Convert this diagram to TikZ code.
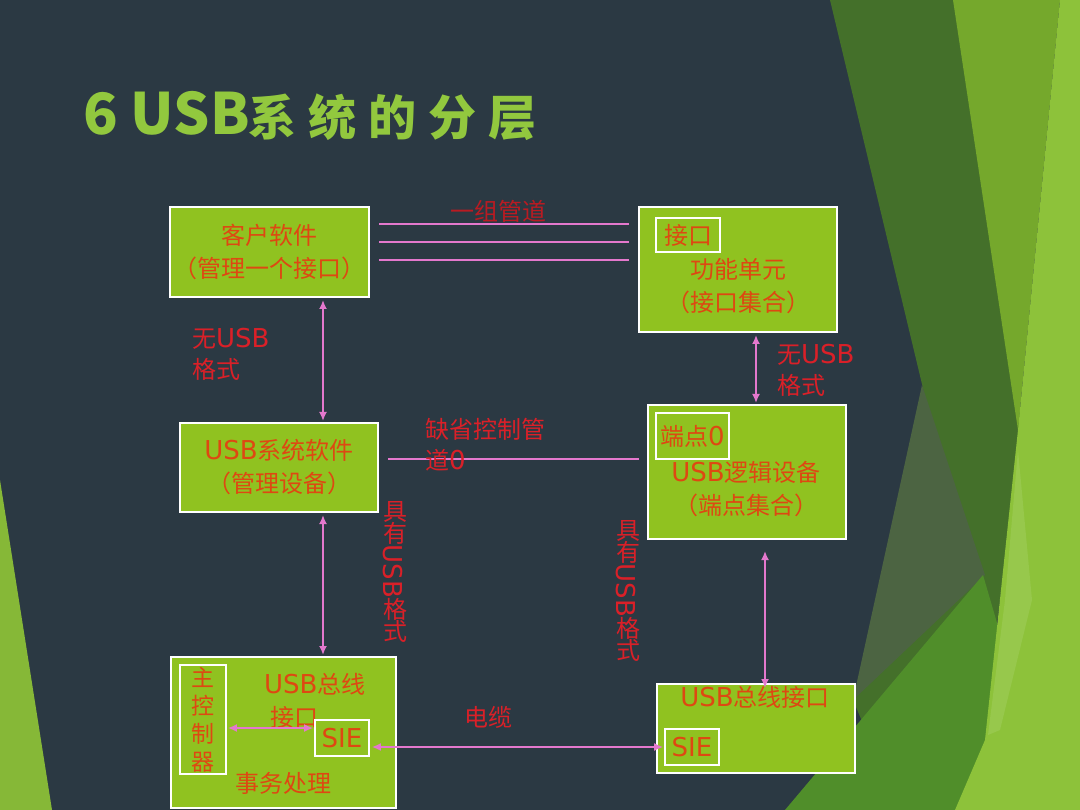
\documentclass[tikz,border=0pt]{standalone}
\usepackage{fontspec}
\setmainfont{Noto Sans CJK SC}
\newfontfamily\latf{DejaVu Sans}
\newcommand\Ltn[1]{{\latf\fontsize{26}{32}\selectfont #1}}
\usetikzlibrary{arrows.meta}
\definecolor{bg}{RGB}{43,57,67}
\definecolor{boxgreen}{RGB}{144,194,32}
\definecolor{boxtxt}{RGB}{222,72,18}
\definecolor{lblred}{RGB}{218,32,40}
\definecolor{pinkc}{RGB}{228,120,205}
\definecolor{titlegreen}{RGB}{146,200,62}
\definecolor{dkgreen}{RGB}{68,112,42}
\definecolor{graygreen}{RGB}{76,100,66}
\definecolor{medgreen}{RGB}{80,142,42}
\definecolor{midgreen}{RGB}{117,168,44}
\definecolor{ltgreen}{RGB}{141,194,58}
\definecolor{hlgreen}{RGB}{158,204,88}
\begin{document}
\begin{tikzpicture}[x=1pt,y=-1pt,
  box/.style={draw=white, line width=2pt, fill=boxgreen, inner sep=0pt},
  inbox/.style={draw=white, line width=1.6pt, inner sep=0pt},
  btxt/.style={text=boxtxt, font=\fontsize{24}{33}\selectfont, align=center},
  lbl/.style={text=lblred, font=\fontsize{24}{31}\selectfont, align=left, inner sep=0pt},
  conn/.style={draw=pinkc, line width=2.2pt},
  arr/.style={conn, {Latex[length=9pt,width=8pt]}-{Latex[length=9pt,width=8pt]}}]
\useasboundingbox (0,0) rectangle (1080,810);
% background
\fill[bg] (0,0) rectangle (1080,810);
\fill[dkgreen] (830,0) -- (960,0) -- (1022,420) -- (995,640) -- (870,740) -- (853,700) -- (927,405) -- cycle;
\fill[graygreen] (922,385) -- (985,575) -- (853,700) -- cycle;
\fill[medgreen] (785,810) -- (983,575) -- (1002,640) -- (992,810) -- cycle;
\fill[midgreen] (953,0) -- (1060,0) -- (1018,430) -- cycle;
\fill[ltgreen] (1060,0) -- (1080,0) -- (1080,810) -- (955,810) -- (985,740) -- (1018,430) -- cycle;
\fill[hlgreen, opacity=0.6] (1018,450) -- (1032,600) -- (1000,730) -- (988,735) -- (1005,600) -- cycle;
\fill[ltgreen!95!black] (0,480) -- (52,810) -- (0,810) -- cycle;
% title
\node[anchor=west, text=titlegreen, font=\fontsize{57}{60}\selectfont\bfseries, inner sep=0pt] (T1) at (83,113) {6 USB};
\node[anchor=west, text=titlegreen, font=\fontsize{48}{50}\selectfont\bfseries, inner sep=0pt] (T2) at (248,117) {系\hspace{12pt}统\hspace{12pt}的\hspace{12pt}分\hspace{12pt}层};
% boxes
\node[box, btxt, minimum width=199pt, minimum height=90pt] (A) at (269.5,252) {客户软件\\（管理一个接口）};
\node[box, minimum width=198pt, minimum height=125pt] (B) at (738,269.5) {};
\node[inbox, btxt, minimum width=64pt, minimum height=34pt] (Bi) at (688,235) {接口};
\node[btxt] (Bt) at (738,286) {功能单元\\（接口集合）};
\node[box, btxt, minimum width=198pt, minimum height=89pt] (C) at (279,467.5) {\Ltn{USB}系统软件\\（管理设备）};
\node[box, minimum width=198pt, minimum height=134pt] (D) at (747,472) {};
\node[inbox, btxt, minimum width=73pt, minimum height=46pt] (Di) at (692.5,436) {端点\Ltn{0}};
\node[btxt] (Dt) at (746,489) {\Ltn{USB}逻辑设备\\（端点集合）};
\node[box, minimum width=225pt, minimum height=151pt] (E) at (283.5,732.5) {};
\node[inbox, btxt, font=\fontsize{23}{28}\selectfont, minimum width=46pt, minimum height=109pt] (Ei) at (203,719.5) {主\\控\\制\\器};
\node[btxt, align=left, anchor=west, inner sep=0pt] (Et1) at (264,701) {\Ltn{USB}总线\\\hspace{6pt}接口};
\node[inbox, btxt, minimum width=54pt, minimum height=36pt] (Es) at (342,738) {\Ltn{SIE}};
\node[btxt] (Et2) at (283,783) {事务处理};
\node[box, minimum width=198pt, minimum height=89pt] (F) at (756,728.5) {};
\node[btxt] (Ft) at (755,697) {\Ltn{USB}总线接口};
\node[inbox, btxt, minimum width=54pt, minimum height=36pt] (Fs) at (692,747) {\Ltn{SIE}};
% helper coordinates
\coordinate (xl) at (323,0);
\coordinate (xr) at (756,0);
\coordinate (xr2) at (765,0);
\coordinate (p1) at (0,224);
\coordinate (p2) at (0,242);
\coordinate (p3) at (0,260);
\coordinate (p4) at (0,459);
\coordinate (p5) at (0,728);
% connectors
\draw[conn, shorten <=9pt, shorten >=9pt] (A.east |- p1) -- (B.west |- p1);
\draw[conn, shorten <=9pt, shorten >=9pt] (A.east |- p2) -- (B.west |- p2);
\draw[conn, shorten <=9pt, shorten >=9pt] (A.east |- p3) -- (B.west |- p3);
\draw[conn, shorten <=9pt, shorten >=8pt] (C.east |- p4) -- (D.west |- p4);
\draw[arr, shorten <=2pt, shorten >=1pt] (A.south -| xl) -- (C.north -| xl);
\draw[arr, shorten <=2pt, shorten >=1pt] (C.south -| xl) -- (E.north -| xl);
\draw[arr, shorten <=2pt, shorten >=1pt] (B.south -| xr) -- (D.north -| xr);
\draw[arr, shorten <=11pt, shorten >=-5pt] (D.south -| xr2) -- (F.north -| xr2);
\draw[arr, shorten <=2pt, shorten >=1pt] (Es.east |- Fs.west) -- (Fs.west);
\draw[arr, shorten <=1pt, shorten >=1pt] (Ei.east |- p5) -- (Es.west |- p5);
% labels
\node[lbl, text=lblred!85!black] (L1) at (498,211) {一组管道};
\node[lbl, anchor=west] (L2) at (192,354) {无\Ltn{USB}\\格式};
\node[lbl, anchor=west] (L3) at (777,370) {无\Ltn{USB}\\格式};
\node[lbl, anchor=west] (L4) at (425,445) {缺省控制管\\道\Ltn{0}};
\node[lbl] (L5) at (488,717) {电缆};
\node[lbl, rotate=-90] (L6) at (395,572) {\rotatebox{90}{具}\rotatebox{90}{有}\Ltn{USB}\rotatebox{90}{格}\rotatebox{90}{式}};
\node[lbl, rotate=-90] (L7) at (628,591) {\rotatebox{90}{具}\rotatebox{90}{有}\Ltn{USB}\rotatebox{90}{格}\rotatebox{90}{式}};
\end{tikzpicture}
\end{document}
